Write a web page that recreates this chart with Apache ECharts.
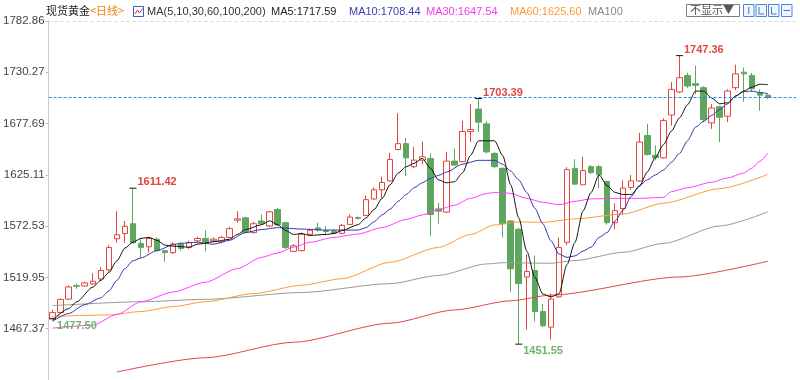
<!DOCTYPE html>
<html>
<head>
<meta charset="utf-8">
<script src="https://cdn.jsdelivr.net/npm/echarts@6/dist/echarts.min.js"></script>
<style>
  html, body { margin: 0; padding: 0; background: #fff; }
  #chart { width: 800px; height: 380px; }
</style>
</head>
<body>
<div id="chart"></div>
<script>
// daily candles: [open, close, low, high]
var candles = [
  [1478.1,1483.9,1477.5,1486.9],[1483.9,1497.4,1483.2,1498.4],[1497.7,1510.2,1497.0,1511.9],[1511.5,1510.9,1508.2,1513.6],
  [1511.2,1514.3,1510.5,1515.6],[1513.3,1516.0,1512.0,1524.4],[1518.3,1527.1,1516.0,1530.5],[1527.7,1550.7,1526.0,1553.1],
  [1559.6,1563.6,1555.5,1587.9],[1564.9,1572.3,1555.5,1577.8],[1575.0,1555.5,1555.0,1611.42],[1554.8,1550.7,1540.6,1559.1],
  [1551.4,1559.9,1545.6,1561.6],[1559.1,1547.4,1546.7,1560.9],[1547.4,1545.4,1536.2,1548.0],[1545.4,1554.1,1544.0,1556.0],
  [1554.1,1549.7,1547.4,1555.8],[1550.7,1555.8,1549.0,1557.5],[1557.5,1559.9,1555.8,1561.6],[1559.9,1556.8,1546.7,1568.3],
  [1557.5,1559.2,1556.0,1561.0],[1556.5,1560.9,1554.8,1562.6],[1560.9,1570.0,1560.2,1572.0],[1578.7,1580.0,1576.0,1587.9],
  [1581.1,1565.9,1565.0,1582.1],[1565.9,1575.0,1564.9,1577.0],[1577.8,1575.0,1574.0,1584.5],[1572.7,1587.2,1571.6,1588.2],
  [1589.5,1573.7,1572.7,1591.2],[1576.1,1550.7,1549.0,1577.0],[1546.7,1552.4,1546.0,1554.1],[1547.4,1564.2,1546.7,1566.0],
  [1564.2,1568.3,1562.5,1570.0],[1570.7,1568.7,1566.9,1576.1],[1567.9,1567.0,1563.2,1572.7],[1567.3,1565.2,1564.2,1569.5],
  [1565.2,1573.3,1564.0,1575.0],[1574.3,1581.8,1573.5,1584.5],[1581.4,1580.5,1579.3,1582.4],[1583.5,1599.7,1582.9,1604.1],
  [1600.4,1609.8,1599.4,1612.2],[1609.8,1617.3,1601.4,1623.4],[1618.9,1640.9,1618.3,1647.7],[1651.1,1657.1,1650.3,1688.4],
  [1657.1,1642.6,1624.0,1662.9],[1633.5,1640.2,1631.8,1653.8],[1640.2,1643.6,1635.8,1659.4],[1641.9,1584.5,1562.6,1647.0],
  [1590.2,1587.9,1575.0,1596.3],[1586.9,1639.2,1586.2,1648.7],[1639.2,1635.1,1634.5,1652.0],[1638.6,1669.6,1637.9,1680.7],
  [1669.6,1671.6,1658.8,1697.6],[1692.6,1679.1,1668.9,1703.39],[1677.4,1648.7,1647.0,1680.0],[1647.0,1633.5,1632.0,1648.7],
  [1631.8,1575.0,1560.9,1632.5],[1577.8,1528.8,1505.1,1578.5],[1569.3,1513.6,1451.55,1571.0],[1520.4,1526.1,1466.3,1544.0],
  [1527.1,1484.9,1474.8,1542.3],[1484.9,1470.4,1469.0,1492.7],[1469.0,1497.8,1456.2,1503.4],[1500.1,1550.7,1499.4,1560.9],
  [1556.0,1630.5,1553.0,1633.0],[1631.8,1615.6,1614.9,1641.2],[1614.9,1629.5,1614.9,1643.6],[1633.5,1627.4,1626.0,1635.1],
  [1633.5,1625.1,1611.5,1635.1],[1618.3,1576.1,1574.0,1619.0],[1576.1,1588.5,1569.3,1596.0],[1590.6,1611.5,1584.0,1619.5],
  [1612.2,1618.9,1609.8,1625.0],[1618.9,1658.8,1618.0,1668.2],[1665.5,1646.0,1645.0,1677.4],[1645.3,1642.6,1640.0,1655.4],
  [1642.6,1680.7,1642.0,1683.2],[1686.5,1712.8,1675.6,1720.2],[1710.1,1724.7,1708.8,1747.36],[1727.0,1716.2,1714.0,1729.7],
  [1718.6,1716.9,1707.8,1737.1],[1714.5,1681.7,1679.0,1716.0],[1678.4,1693.6,1672.3,1697.6],[1694.9,1684.2,1658.8,1696.0],
  [1685.2,1711.1,1679.1,1712.8],[1714.5,1728.7,1712.0,1738.1],[1730.4,1728.7,1700.0,1735.1],[1727.0,1713.5,1710.0,1729.7],
  [1709.5,1706.8,1690.9,1712.8],[1706.8,1704.4,1702.8,1708.0]
];

// moving average lines, read at sampled days: [day index, value]
var ma5Pts = [[0,1476],[2,1488],[3,1495],[5,1510],[6,1517],[7,1525],[8,1537],[9,1550],[10,1556],[11,1560],[12,1561],[13,1558],[14,1553],[15,1552],[17,1551],[18,1554],[20,1556.5],[22,1559],[23,1564],[24,1569],[26,1574],[27,1578],[28,1574],[29,1568],[30,1564],[31,1565],[32,1563],[34,1564],[35,1565],[36,1568],[38,1574],[39,1581],[40,1589.5],[41,1601],[42,1615],[43,1627],[44,1633.5],[45,1637],[46,1642],[47,1632],[48,1620],[49,1617],[50,1618],[51,1627],[52,1645],[53,1660],[55,1660],[56,1645],[57,1615],[58,1581],[59,1547],[60,1520],[61,1503],[62,1500],[63,1503],[64,1533],[65,1556],[66,1588],[67,1607],[68,1625],[69,1614],[70,1607],[71,1605],[72,1605],[73,1613],[74,1628],[75,1643],[76,1656],[77,1670],[78,1683.5],[79,1697],[80,1711],[81,1711],[82,1704],[83,1698],[84,1699],[85,1706],[86,1711],[87,1715],[88,1718],[89,1717.59]];
var ma10Pts = [[0,1475],[2,1483],[4,1492],[6,1499],[7,1506],[8,1517],[9,1529],[10,1537],[11,1540],[13,1547.5],[15,1553.5],[16,1555],[18,1556],[20,1554],[22,1558],[24,1566],[26,1569],[28,1571],[29,1570.5],[31,1569.5],[34,1568.5],[38,1568.5],[39,1571],[40,1577],[41,1584],[42,1590],[43,1598],[44,1605],[45,1612],[46,1617],[47,1621.5],[48,1624.5],[49,1628],[51,1636],[53,1640],[55,1640],[56,1636],[57,1629],[58,1620],[59,1607],[60,1591],[61,1575],[62,1557.5],[63,1544],[64,1540.5],[65,1542],[66,1547],[67,1551],[68,1561],[69,1566],[70,1578],[71,1589],[72,1603],[73,1614],[74,1620],[75,1625],[76,1630],[77,1638],[78,1647],[79,1660],[80,1674],[81,1680],[82,1686],[83,1692],[84,1698],[85,1706],[86,1710.5],[87,1711],[88,1709.5],[89,1708.44]];
var ma30Pts = [[0,1468],[5,1471],[8,1482],[11,1495],[15,1505],[19,1515],[23,1529],[26,1540.5],[28,1545],[30,1551],[32,1556],[35,1561],[38,1564.5],[41,1571],[44,1579.4],[46,1584],[48,1589.5],[50,1594],[52,1601],[54,1606],[55,1607],[56,1607],[57,1606],[59,1601],[61,1597],[63,1594.5],[65,1598],[67,1600.5],[70,1601],[73,1601],[76,1602],[77,1608],[79,1612],[82,1617.5],[84,1622],[86,1627],[87,1632],[88,1639],[89,1647.54]];
var ma60Pts = [[0,1480],[7,1481.5],[11,1485],[15,1490],[19,1495],[25,1503.4],[31,1512],[36,1518.6],[42,1535.5],[48,1550.7],[52,1564],[55,1573.7],[58,1576.8],[61,1576.5],[65,1580],[71,1585],[76,1596],[83,1611],[89,1625.6]];
var ma100Pts = [[0,1491],[11,1495],[19,1497.5],[31,1504.5],[42,1513.6],[48,1522],[54,1533.8],[56,1535],[62,1534.5],[65,1537.3],[71,1545.7],[76,1554.8],[83,1572.7],[89,1587.2]];
var ma200Pts = [[8,1423],[19,1437.6],[30,1453.5],[42,1473],[50,1486.6],[57,1496],[62,1501.8],[78,1520.4],[89,1536.6]];

var yTicks = [1467.37, 1519.95, 1572.53, 1625.11, 1677.69, 1730.27, 1782.86];
var yMin = 1414.79;
var highMarks = [10, 53, 78];   // days whose high is labelled
var lowMarks = [0, 58];         // days whose low is labelled
var lastPrice = 1704.4;
var slotCount = 93;             // a few empty days to the right

var legendItems = [
  { text: 'MA5:1717.59', color: '#222222', x: 271 },
  { text: 'MA10:1708.44', color: '#3a3ab4', x: 349 },
  { text: 'MA30:1647.54', color: '#f03cf0', x: 426 },
  { text: 'MA60:1625.60', color: '#ff9a3c', x: 510 },
  { text: 'MA100', color: '#8a8a8a', x: 588 }
];

var UP = '#e0463f', DOWN = '#5ea65e';

var days = [];
for (var d = 0; d < slotCount; d++) days.push('D' + (d + 1));

var marks = [];
highMarks.forEach(function (i) {
  marks.push({ coord: [i, candles[i][3]], value: candles[i][3].toFixed(2),
    label: { color: '#e0463f', offset: [0, -6] } });
});
lowMarks.forEach(function (i) {
  marks.push({ coord: [i, candles[i][2]], value: candles[i][2].toFixed(2),
    label: { color: '#6cb36c', offset: [0, 7] } });
});

function maLine(name, pts, color) {
  return {
    name: name, type: 'line', data: pts, symbol: 'none',
    smooth: 0.25, smoothMonotone: 'x', silent: true,
    lineStyle: { color: color, width: 1 }, z: 3
  };
}

var headerFont = '11px Liberation Sans, Noto Sans CJK SC, sans-serif';
var graphics = [
  { type: 'text', left: 46, top: 5, style: { text: '现货黄金', fill: '#222', font: '11px Noto Sans CJK SC' } },
  { type: 'text', left: 90, top: 5, style: { text: '<日线>', fill: '#f0830a', font: '11px Noto Sans CJK SC' } },
  { type: 'rect', shape: { x: 133.5, y: 6.5, width: 10, height: 10 }, style: { fill: '#fff', stroke: '#3a5cc8', lineWidth: 1 } },
  { type: 'polyline', shape: { points: [[135, 14], [137.5, 10], [139.5, 13], [142.5, 8.5]] }, style: { stroke: '#e03030', lineWidth: 1, fill: null } },
  { type: 'text', left: 147, top: 6, style: { text: 'MA(5,10,30,60,100,200)', fill: '#333', font: headerFont } },
  { type: 'rect', shape: { x: 686.5, y: 4.5, width: 53, height: 12 }, style: { fill: '#fff', stroke: '#7d7d7d', lineWidth: 1 } },
  { type: 'text', left: 690, top: 4, style: { text: '不显示▼', fill: '#555', font: '11px Noto Sans CJK SC' } }
];
legendItems.forEach(function (it) {
  graphics.push({ type: 'text', left: it.x, top: 6, style: { text: it.text, fill: it.color, font: headerFont } });
});
// small tool buttons at the top right
[743.5, 756, 768.5, 781.5].forEach(function (x, k) {
  graphics.push({ type: 'rect', shape: { x: x, y: 4.5, width: 10.5, height: 12 }, style: { fill: '#f2f6ff', stroke: '#4f84d6', lineWidth: 1 } });
  var glyph = [
    [[x + 5.25, 7], [x + 5.25, 14]],
    [[x + 3, 7], [x + 3, 14], [x + 8, 14]],
    [[x + 3, 7], [x + 3, 14], [x + 8, 14]],
    [[x + 2, 10.5], [x + 8.5, 10.5]]
  ][k];
  graphics.push({ type: 'polyline', shape: { points: glyph }, style: { stroke: '#3f76cc', lineWidth: 1, fill: null } });
});

var chart = echarts.init(document.getElementById('chart'));
chart.setOption({
  animation: false,
  backgroundColor: '#fff',
  grid: { left: 45, right: 4, top: 21, bottom: -4 },
  xAxis: {
    type: 'category', data: days, boundaryGap: true, show: false
  },
  yAxis: {
    type: 'value', min: yMin, max: yTicks[yTicks.length - 1], scale: true,
    axisLine: { show: true, lineStyle: { color: '#c9ccd4' } },
    axisTick: { show: true, length: 3, customValues: yTicks, lineStyle: { color: '#b8bcc6' } },
    axisLabel: {
      customValues: yTicks, margin: 4, color: '#444', fontSize: 11.5,
      fontFamily: 'Liberation Sans',
      formatter: function (v) { return v.toFixed(2); }
    },
    splitLine: { show: false }
  },
  graphic: graphics,
  series: [
    {
      name: '现货黄金', type: 'candlestick', data: candles, barWidth: 6, z: 2,
      itemStyle: { color: '#ffffff', color0: DOWN, borderColor: UP, borderColor0: DOWN, borderWidth: 1 },
      markPoint: {
        symbol: 'rect', symbolSize: [7, 1], silent: true,
        itemStyle: { color: '#111' },
        label: {
          show: true, position: 'right', distance: 1,
          fontSize: 11, fontWeight: 'bold', fontFamily: 'Liberation Sans',
          formatter: function (p) { return p.value; }
        },
        data: marks
      },
      markLine: {
        symbol: ['none', 'none'], silent: true, label: { show: false },
        data: [
          { yAxis: lastPrice, lineStyle: { color: '#2a8cf0', type: [3, 2], width: 1 } },
          { yAxis: yTicks[yTicks.length - 1], lineStyle: { color: '#d6d6d6', type: [3, 3], width: 1 } }
        ]
      }
    },
    maLine('MA200', ma200Pts, '#e04848'),
    maLine('MA100', ma100Pts, '#9a9a9a'),
    maLine('MA60', ma60Pts, '#ff9a3c'),
    maLine('MA30', ma30Pts, '#ff3cff'),
    maLine('MA10', ma10Pts, '#3434b0'),
    maLine('MA5', ma5Pts, '#111111')
  ]
});
</script>
</body>
</html>
